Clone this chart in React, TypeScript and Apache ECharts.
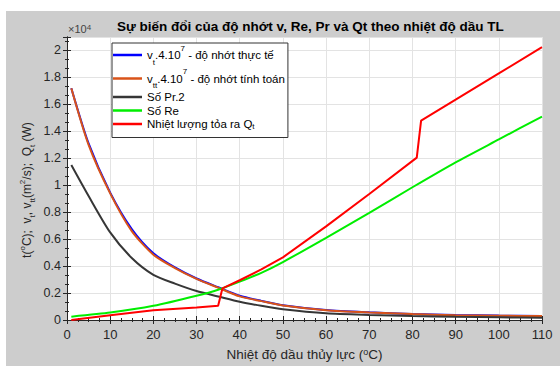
import React, { useEffect, useRef } from 'react';
import * as echarts from 'echarts';

// Temperatures (°C) where viscosity and Prandtl curves were sampled
const tempX = [1, 5, 10, 15, 20, 25, 30, 35, 40, 45, 50, 60, 70, 80, 90, 100, 110];
// v_t * 4e7 (actual viscosity)
const vtValues = [17200, 13100, 9450, 6750, 4950, 3900, 3080, 2430, 1800, 1420, 1100, 740, 570, 450, 370, 330, 300];
// v_tt * 4e7 (computed viscosity)
const vttValues = [17200, 13000, 9400, 6600, 4850, 3850, 3050, 2400, 1750, 1400, 1080, 730, 560, 440, 360, 320, 290];
// Pr * 2
const prValues = [11500, 9200, 6500, 4600, 3350, 2700, 2150, 1750, 1350, 1050, 800, 500, 380, 300, 240, 200, 160];
// Reynolds number
const reTemps = [1, 10, 20, 30, 35, 40, 45, 50, 60, 70, 80, 90, 100, 110];
const reValues = [250, 550, 1050, 1800, 2250, 2850, 3500, 4300, 6100, 7950, 9850, 11700, 13400, 15100];
// Heat released Q_t (W)
const qtTemps = [1, 10, 20, 30, 35, 36, 40, 45, 50, 60, 70, 81, 82, 90, 100, 110];
const qtValues = [0, 360, 730, 920, 1050, 2350, 2950, 3750, 4650, 6950, 9350, 12050, 14800, 16350, 18300, 20250];

const seriesNames = ['vt', 'vtt', 'pr', 're', 'qt'];
const seriesColors = ['#0000ff', '#d95319', '#363636', '#00ee00', '#ff0000'];
const seriesSmooth = [0.25, 0.25, 0.25, 0.2, 0];
const legendLabels: Record<string, string> = {
  vt: '{a|v}{as|t}{a|.4.10}{ap|7}{a| - độ nhớt thực tế}',
  vtt: '{a|v}{as|tt}{a|.4.10}{ap|7}{a| - độ nhớt tính toán}',
  pr: '{b|Số Pr.2}',
  re: '{b|Số Re}',
  qt: '{b|Nhiệt lượng tỏa ra Q}{bs|t}',
};
const titleText = 'Sự biến đổi của độ nhớt v, Re, Pr và Qt theo nhiệt độ dầu TL';
const yScale = 10000;

const FONT = 'Liberation Sans, Arial, sans-serif';

function zip(xs: number[], ys: number[]) {
  return xs.map((x, i) => [x, ys[i]]);
}

export default function App() {
  const ref = useRef<HTMLDivElement>(null);
  useEffect(() => {
    if (!ref.current) return;
    const chart = echarts.init(ref.current, undefined, { renderer: 'svg' });
    const axisCommon = {
      axisLine: { show: true, lineStyle: { color: '#262626', width: 1 } },
      axisTick: { show: true, inside: true, length: 4, lineStyle: { color: '#262626' } },
      minorTick: { show: true, length: 2, lineStyle: { color: '#262626' } },
    };
    const dataSets = [
      zip(tempX, vtValues),
      zip(tempX, vttValues),
      zip(tempX, prValues),
      zip(reTemps, reValues),
      zip(qtTemps, qtValues),
    ];
    chart.setOption({
      animation: false,
      backgroundColor: '#cdcdcd',
      title: {
        text: titleText,
        left: 111,
        top: 8,
        padding: 0,
        textStyle: { fontFamily: FONT, fontSize: 13.5, fontWeight: 'bold', color: '#000' },
      },
      grid: {
        left: 61,
        top: 26,
        right: 18,
        bottom: 39,
        show: true,
        backgroundColor: '#ffffff',
        borderWidth: 0,
      },
      legend: {
        orient: 'vertical',
        left: 106,
        top: 32,
        padding: [1, 3, 7, 1],
        itemGap: 1.5,
        itemWidth: 29,
        itemHeight: 2.5,
        icon: 'rect',
        selectedMode: false,
        backgroundColor: '#ffffff',
        borderColor: '#333333',
        borderWidth: 1,
        borderRadius: 0,
        data: seriesNames,
        formatter: (name: string) => legendLabels[name],
        textStyle: {
          fontFamily: FONT,
          fontSize: 11.5,
          color: '#000',
          rich: {
            a: { fontFamily: FONT, fontSize: 11.5, lineHeight: 22, color: '#000' },
            as: { fontFamily: FONT, fontSize: 8, lineHeight: 15, verticalAlign: 'bottom', color: '#000' },
            ap: { fontFamily: FONT, fontSize: 8, lineHeight: 16, verticalAlign: 'top', color: '#000' },
            b: { fontFamily: FONT, fontSize: 11.5, lineHeight: 13, color: '#000' },
            bs: { fontFamily: FONT, fontSize: 8, lineHeight: 7, verticalAlign: 'bottom', color: '#000' },
          },
        },
      },
      xAxis: [
        {
          type: 'value',
          min: 0,
          max: 110,
          interval: 10,
          position: 'bottom',
          ...axisCommon,
          minorTick: { ...axisCommon.minorTick, splitNumber: 4 },
          splitLine: { show: true, lineStyle: { color: '#e3e3e3', width: 1 } },
          axisLabel: { fontFamily: FONT, fontSize: 13, color: '#262626', margin: 8 },
          name: 'Nhiệt độ dầu thủy lực ({p|o}C)',
          nameLocation: 'middle',
          nameGap: 27,
          nameTextStyle: {
            fontFamily: FONT,
            fontSize: 13.5,
            color: '#262626',
            rich: {
              p: { fontFamily: FONT, fontSize: 9, lineHeight: 9, verticalAlign: 'top', color: '#262626' },
            },
          },
        },
        {
          type: 'value',
          min: 0,
          max: 110,
          interval: 10,
          position: 'top',
          ...axisCommon,
          minorTick: { ...axisCommon.minorTick, splitNumber: 4 },
          splitLine: { show: false },
          axisLabel: { show: false },
        },
      ],
      yAxis: [
        {
          type: 'value',
          min: 0,
          max: 21000,
          interval: 2000,
          position: 'left',
          ...axisCommon,
          minorTick: { ...axisCommon.minorTick, splitNumber: 3 },
          splitLine: { show: true, lineStyle: { color: '#e3e3e3', width: 1 } },
          axisLabel: {
            fontFamily: FONT,
            fontSize: 12.5,
            color: '#262626',
            margin: 6,
            formatter: (v: number) => (v > 20000 ? '' : String(Math.round((v / yScale) * 10) / 10)),
          },
        },
        {
          type: 'value',
          min: 0,
          max: 21000,
          interval: 2000,
          position: 'right',
          ...axisCommon,
          minorTick: { ...axisCommon.minorTick, splitNumber: 3 },
          splitLine: { show: false },
          axisLabel: { show: false },
        },
      ],
      graphic: [
        {
          type: 'text',
          left: 62,
          top: 12,
          style: {
            text: '×10{s|4}',
            fontFamily: FONT,
            fontSize: 11,
            fill: '#444',
            rich: {
              s: { fontFamily: FONT, fontSize: 8, lineHeight: 10, verticalAlign: 'top', fill: '#444' },
            },
          },
        },
        {
          type: 'text',
          x: 21,
          y: 179,
          rotation: Math.PI / 2,
          style: {
            text: 't({p|o}C);  v{s|t}, v{s|tt}(m{p|2}/s);  Q{s|t} (W)',
            fontFamily: FONT,
            fontSize: 12,
            lineHeight: 18,
            fill: '#262626',
            align: 'center',
            verticalAlign: 'middle',
            rich: {
              p: { fontFamily: FONT, fontSize: 8, lineHeight: 11, verticalAlign: 'top', fill: '#262626' },
              s: { fontFamily: FONT, fontSize: 8, lineHeight: 11, verticalAlign: 'bottom', fill: '#262626' },
            },
          },
        },
      ],
      series: seriesNames.map((name, i) => ({
        name,
        type: 'line',
        xAxisIndex: 0,
        yAxisIndex: 0,
        data: dataSets[i],
        showSymbol: false,
        symbol: 'none',
        smooth: seriesSmooth[i],
        lineStyle: { width: 2, color: seriesColors[i] },
        itemStyle: { color: seriesColors[i] },
        emphasis: { disabled: true },
        z: 2 + i,
      })),
    });
    return () => chart.dispose();
  }, []);
  return (
    <div
      ref={ref}
      style={{ position: 'absolute', left: 6, top: 11, width: 554, height: 355 }}
    />
  );
}
